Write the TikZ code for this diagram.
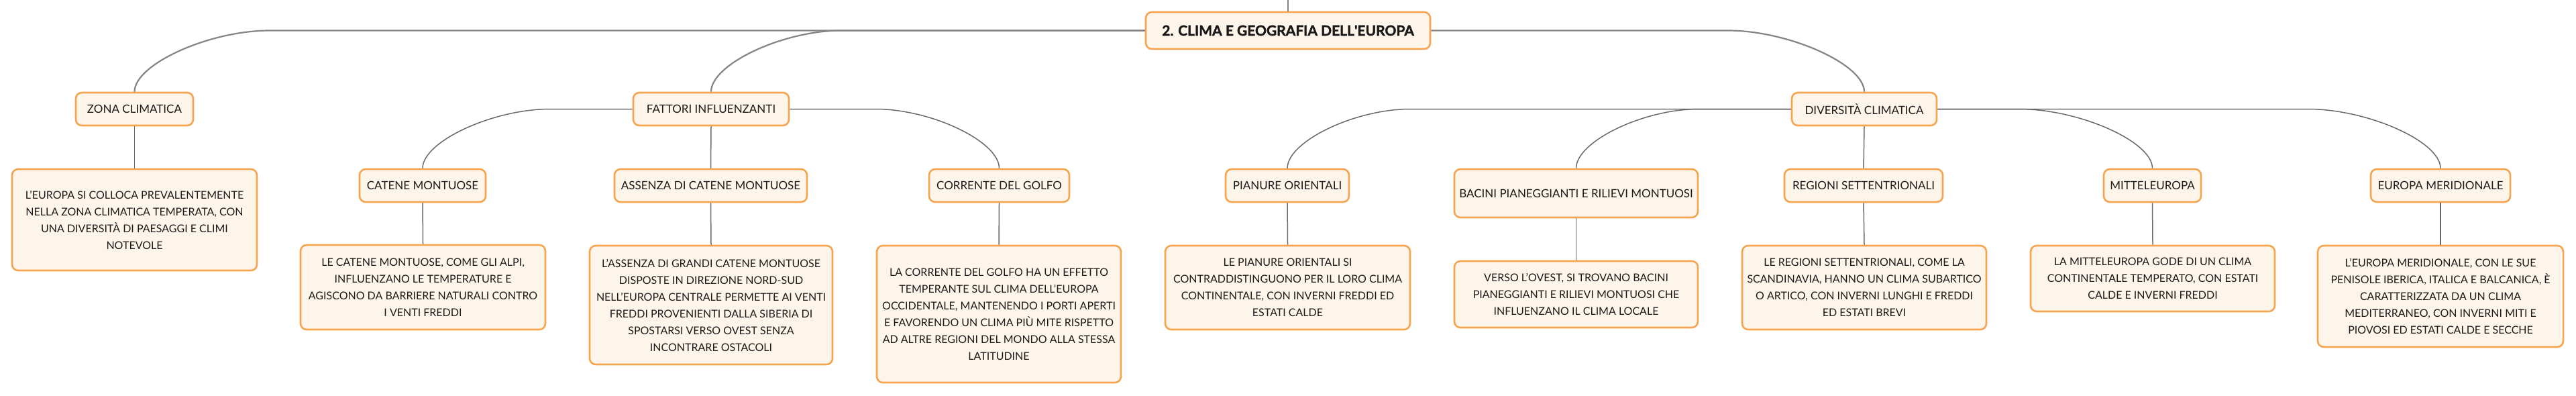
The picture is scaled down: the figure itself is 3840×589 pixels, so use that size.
\documentclass[tikz,border=0pt]{standalone}
\usepackage{fontspec}
\setmainfont{Lato}
\newfontfamily\titlefont{Lato}[BoldFeatures={FakeBold=1.6}]
\usetikzlibrary{calc}
\definecolor{boxline}{HTML}{F5A54F}
\definecolor{boxfill}{HTML}{FEF5EA}
\definecolor{lineA}{HTML}{858585}
\definecolor{lineB}{HTML}{6A6A6A}
\definecolor{ink}{HTML}{1A1A1A}
\begin{document}
\begin{tikzpicture}[x=1pt,y=-1pt,
  box/.style={draw=boxline, fill=boxfill, line width=2.6pt, rounded corners=9pt, inner sep=0pt, align=center, text=ink},
  titlebox/.style={box, font=\fontsize{21}{25}\selectfont\titlefont\bfseries, minimum width=424pt, minimum height=55pt},
  lbl/.style={box, font=\fontsize{17}{22}\selectfont, minimum height=49pt},
  desc/.style={box, font=\fontsize{16}{25}\selectfont},
  connA/.style={draw=lineA, line width=2.2pt},
  connB/.style={draw=lineB, line width=1.5pt}]
\fill[white] (0,0) rectangle (3840,589);
\useasboundingbox (0,0) rectangle (3840,589);

% root
\node[titlebox] (root) at (1920,45.5) {2. CLIMA E GEOGRAFIA DELL\textquotesingle EUROPA};

% level 1
\node[lbl, minimum width=175pt] (zona) at (200.5,162.5) {ZONA CLIMATICA};
\node[lbl, minimum width=232pt] (fatt) at (1060,162.5) {FATTORI INFLUENZANTI};
\node[lbl, minimum width=216pt] (dive) at (2779,162.5) {DIVERSITÀ CLIMATICA};

% level 2
\node[lbl, minimum width=188pt] (cate) at (630,276.5) {CATENE MONTUOSE};
\node[lbl, minimum width=287pt] (asse) at (1059.5,276.5) {ASSENZA DI CATENE MONTUOSE};
\node[lbl, minimum width=209pt] (corr) at (1489.5,276.5) {CORRENTE DEL GOLFO};
\node[lbl, minimum width=184pt] (pian) at (1919,276.5) {PIANURE ORIENTALI};
\node[lbl, minimum width=363pt, minimum height=72pt] (baci) at (2349.5,288) {BACINI PIANEGGIANTI E RILIEVI MONTUOSI};
\node[lbl, minimum width=236pt] (regi) at (2778,276.5) {REGIONI SETTENTRIONALI};
\node[lbl, minimum width=145pt] (mitt) at (3208.5,276.5) {MITTELEUROPA};
\node[lbl, minimum width=208pt] (euro) at (3638,276.5) {EUROPA MERIDIONALE};

% descriptions
\node[desc, minimum width=365pt, minimum height=151pt] (dzona) at (200.5,327.5)
  {L’EUROPA SI COLLOCA PREVALENTEMENTE\\NELLA ZONA CLIMATICA TEMPERATA, CON\\UNA DIVERSITÀ DI PAESAGGI E CLIMI\\NOTEVOLE};
\node[desc, minimum width=365pt, minimum height=126pt] (dcate) at (630.5,428)
  {LE CATENE MONTUOSE, COME GLI ALPI,\\INFLUENZANO LE TEMPERATURE E\\AGISCONO DA BARRIERE NATURALI CONTRO\\I VENTI FREDDI};
\node[desc, minimum width=362pt, minimum height=177pt] (dasse) at (1060,454.5)
  {L’ASSENZA DI GRANDI CATENE MONTUOSE\\DISPOSTE IN DIREZIONE NORD-SUD\\NELL’EUROPA CENTRALE PERMETTE AI VENTI\\FREDDI PROVENIENTI DALLA SIBERIA DI\\SPOSTARSI VERSO OVEST SENZA\\INCONTRARE OSTACOLI};
\node[desc, minimum width=364pt, minimum height=204pt] (dcorr) at (1489,468)
  {LA CORRENTE DEL GOLFO HA UN EFFETTO\\TEMPERANTE SUL CLIMA DELL’EUROPA\\OCCIDENTALE, MANTENENDO I PORTI APERTI\\E FAVORENDO UN CLIMA PIÙ MITE RISPETTO\\AD ALTRE REGIONI DEL MONDO ALLA STESSA\\LATITUDINE};
\node[desc, minimum width=365pt, minimum height=125pt] (dpian) at (1919.5,428.5)
  {LE PIANURE ORIENTALI SI\\CONTRADDISTINGUONO PER IL LORO CLIMA\\CONTINENTALE, CON INVERNI FREDDI ED\\ESTATI CALDE};
\node[desc, minimum width=363pt, minimum height=99pt] (dbaci) at (2349.5,438.5)
  {VERSO L’OVEST, SI TROVANO BACINI\\PIANEGGIANTI E RILIEVI MONTUOSI CHE\\INFLUENZANO IL CLIMA LOCALE};
\node[desc, minimum width=364pt, minimum height=125pt] (dregi) at (2779,428.5)
  {LE REGIONI SETTENTRIONALI, COME LA\\SCANDINAVIA, HANNO UN CLIMA SUBARTICO\\O ARTICO, CON INVERNI LUNGHI E FREDDI\\ED ESTATI BREVI};
\node[desc, minimum width=364pt, minimum height=98pt] (dmitt) at (3209,415)
  {LA MITTELEUROPA GODE DI UN CLIMA\\CONTINENTALE TEMPERATO, CON ESTATI\\CALDE E INVERNI FREDDI};
\node[desc, minimum width=366pt, minimum height=151pt] (deuro) at (3638,441.5)
  {L’EUROPA MERIDIONALE, CON LE SUE\\PENISOLE IBERICA, ITALICA E BALCANICA, È\\CARATTERIZZATA DA UN CLIMA\\MEDITERRANEO, CON INVERNI MITI E\\PIOVOSI ED ESTATI CALDE E SECCHE};

% connector waypoints
\coordinate (top) at (1920,0);
\coordinate (z0) at (402,45.5);
\coordinate (f0) at (1254,45.5);
\coordinate (d0) at (2576,45.5);
\coordinate (c0) at (820,162.5);
\coordinate (r0) at (1305,162.5);
\coordinate (p0) at (2102,162.5);
\coordinate (b0) at (2532,162.5);
\coordinate (m0) at (3010,162.5);
\coordinate (e0) at (3440,162.5);

% root connectors
\draw[connA] (top) -- (root.north);
\draw[connA] (root.west) -- (z0) .. controls ($(z0)+(-90,0)$) and ($(zona.north)+(0,-41)$) .. (zona.north);
\draw[connA] (root.west) -- (f0) .. controls ($(f0)+(-87,0)$) and ($(fatt.north)+(0,-41)$) .. (fatt.north);
\draw[connA] (root.east) -- (d0) .. controls ($(d0)+(90,0)$) and ($(dive.north)+(0,-41)$) .. (dive.north);

% level 2 connectors
\draw[connB] (fatt.west) -- (c0) .. controls ($(c0)+(-85,0)$) and ($(cate.north)+(0,-40)$) .. (cate.north);
\draw[connB] (fatt.south) -- (asse.north);
\draw[connB] (fatt.east) -- (r0) .. controls ($(r0)+(83,0)$) and ($(corr.north)+(0,-40)$) .. (corr.north);
\draw[connB] (dive.west) -- (p0) .. controls ($(p0)+(-82,0)$) and ($(pian.north)+(0,-40)$) .. (pian.north);
\draw[connB] (dive.west) -- (b0) .. controls ($(b0)+(-82,0)$) and ($(baci.north)+(0,-40)$) .. (baci.north);
\draw[connB] (dive.south) -- (regi.north);
\draw[connB] (dive.east) -- (m0) .. controls ($(m0)+(89,0)$) and ($(mitt.north)+(0,-40)$) .. (mitt.north);
\draw[connB] (dive.east) -- (e0) .. controls ($(e0)+(89,0)$) and ($(euro.north)+(0,-40)$) .. (euro.north);

% description connectors
\draw[connB] (zona.south) -- (dzona.north);
\draw[connB] (cate.south) -- (dcate.north);
\draw[connB] (asse.south) -- (dasse.north);
\draw[connB] (corr.south) -- (dcorr.north);
\draw[connB] (pian.south) -- (dpian.north);
\draw[connB] (baci.south) -- (dbaci.north);
\draw[connB] (regi.south) -- (dregi.north);
\draw[connB] (mitt.south) -- (dmitt.north);
\draw[connB] (euro.south) -- (deuro.north);
\end{tikzpicture}
\end{document}
